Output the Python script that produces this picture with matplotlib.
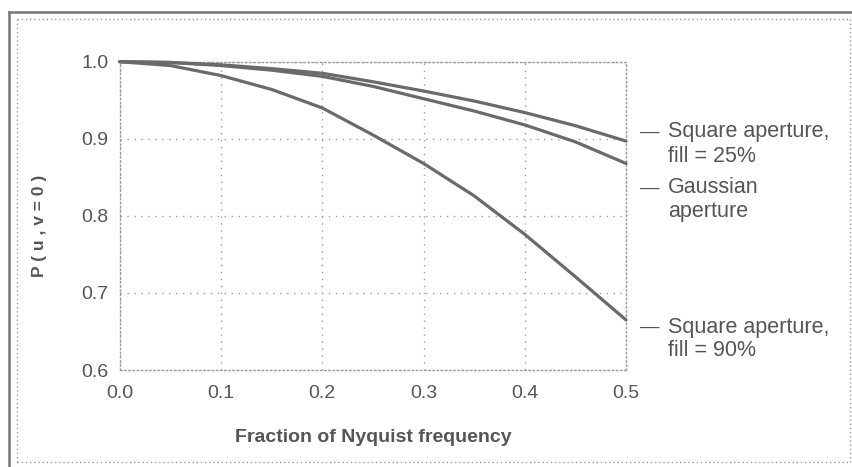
import matplotlib
matplotlib.use("Agg")
import matplotlib.pyplot as plt
from matplotlib.lines import Line2D

plt.rcParams['font.family'] = ['Liberation Sans', 'DejaVu Sans']

freq = [0.0, 0.05, 0.1, 0.15, 0.2, 0.25, 0.3, 0.35, 0.4, 0.45, 0.5]
square25 = [1.0, 0.999, 0.996, 0.991, 0.985, 0.974, 0.962, 0.949, 0.934, 0.917, 0.897]
gaussian = [1.0, 0.999, 0.995, 0.989, 0.981, 0.968, 0.952, 0.936, 0.918, 0.896, 0.868]
square90 = [1.0, 0.995, 0.982, 0.964, 0.940, 0.905, 0.868, 0.826, 0.776, 0.721, 0.665]
label_lines = [("Square aperture,", "fill = 25%"), ("Gaussian", "aperture"), ("Square aperture,", "fill = 90%")]
xticks = [0.0, 0.1, 0.2, 0.3, 0.4, 0.5]
yticks = [0.6, 0.7, 0.8, 0.9, 1.0]

W, H = 853, 467
fig = plt.figure(figsize=(W / 100, H / 100), dpi=100)
ax = fig.add_axes([119.75 / W, 1 - 370 / H, (626 - 119.75) / W, (370 - 61.7) / H])

curve_col = '#6a6a6a'
text_col = '#555555'
grid_col = '#9a9a9a'

for ys in (square25, gaussian, square90):
    ax.plot(freq, ys, color=curve_col, lw=2.3, solid_capstyle='round', clip_on=False, zorder=3)

ax.set_xlim(0, 0.5)
ax.set_ylim(0.6, 1.0)
ax.set_xticks(xticks)
ax.set_yticks(yticks)
ax.set_xticklabels([f"{v:.1f}" for v in xticks])
ax.set_yticklabels([f"{v:.1f}" for v in yticks])
ax.tick_params(length=0, labelsize=14, colors=text_col, pad=8)
ax.tick_params(axis='x', pad=11)
ax.grid(True, linestyle=(0, (1, 4)), color=grid_col, lw=1.0)
for s in ('left', 'bottom', 'right', 'top'):
    ax.spines[s].set_linestyle((0, (1, 2)))
    ax.spines[s].set_color(grid_col)
    ax.spines[s].set_linewidth(1.0)

ax.set_xlabel("Fraction of Nyquist frequency", fontsize=14, fontweight='bold',
              color=text_col, labelpad=19)
ax.set_ylabel("P ( u , v = 0 )", fontsize=12.5, fontweight='bold', color=text_col)
ax.yaxis.set_label_coords(-0.144, 0.467)

# right-side labels (pixel positions of first-line centres)
label_py = [132, 188, 327]
for (l1, l2), py in zip(label_lines, label_py):
    fig.text(640 / W, 1 - py / H, "\u2014", ha='left', va='center', fontsize=14, color=text_col)
    fig.text(668 / W, 1 - py / H, l1, ha='left', va='center', fontsize=15.5, color=text_col)
    fig.text(668 / W, 1 - (py + 24) / H, l2, ha='left', va='center', fontsize=15.5, color=text_col)

# figure frame
fig.add_artist(Line2D([9 / W, 9 / W], [0, 1 - 12 / H], color='#777777', lw=1.8))
fig.add_artist(Line2D([9 / W, 1], [1 - 12 / H, 1 - 12 / H], color='#777777', lw=1.8))
dot = dict(color='#999999', lw=1.0, linestyle=(0, (1, 2)))
fig.add_artist(Line2D([17 / W, 850 / W], [1 - 19 / H, 1 - 19 / H], **dot))
fig.add_artist(Line2D([17 / W, 850 / W], [1 - 462 / H, 1 - 462 / H], **dot))
fig.add_artist(Line2D([17 / W, 17 / W], [1 - 19 / H, 1 - 462 / H], **dot))
fig.add_artist(Line2D([850 / W, 850 / W], [1 - 19 / H, 1 - 462 / H], **dot))

fig.savefig("out.png", dpi=100)
